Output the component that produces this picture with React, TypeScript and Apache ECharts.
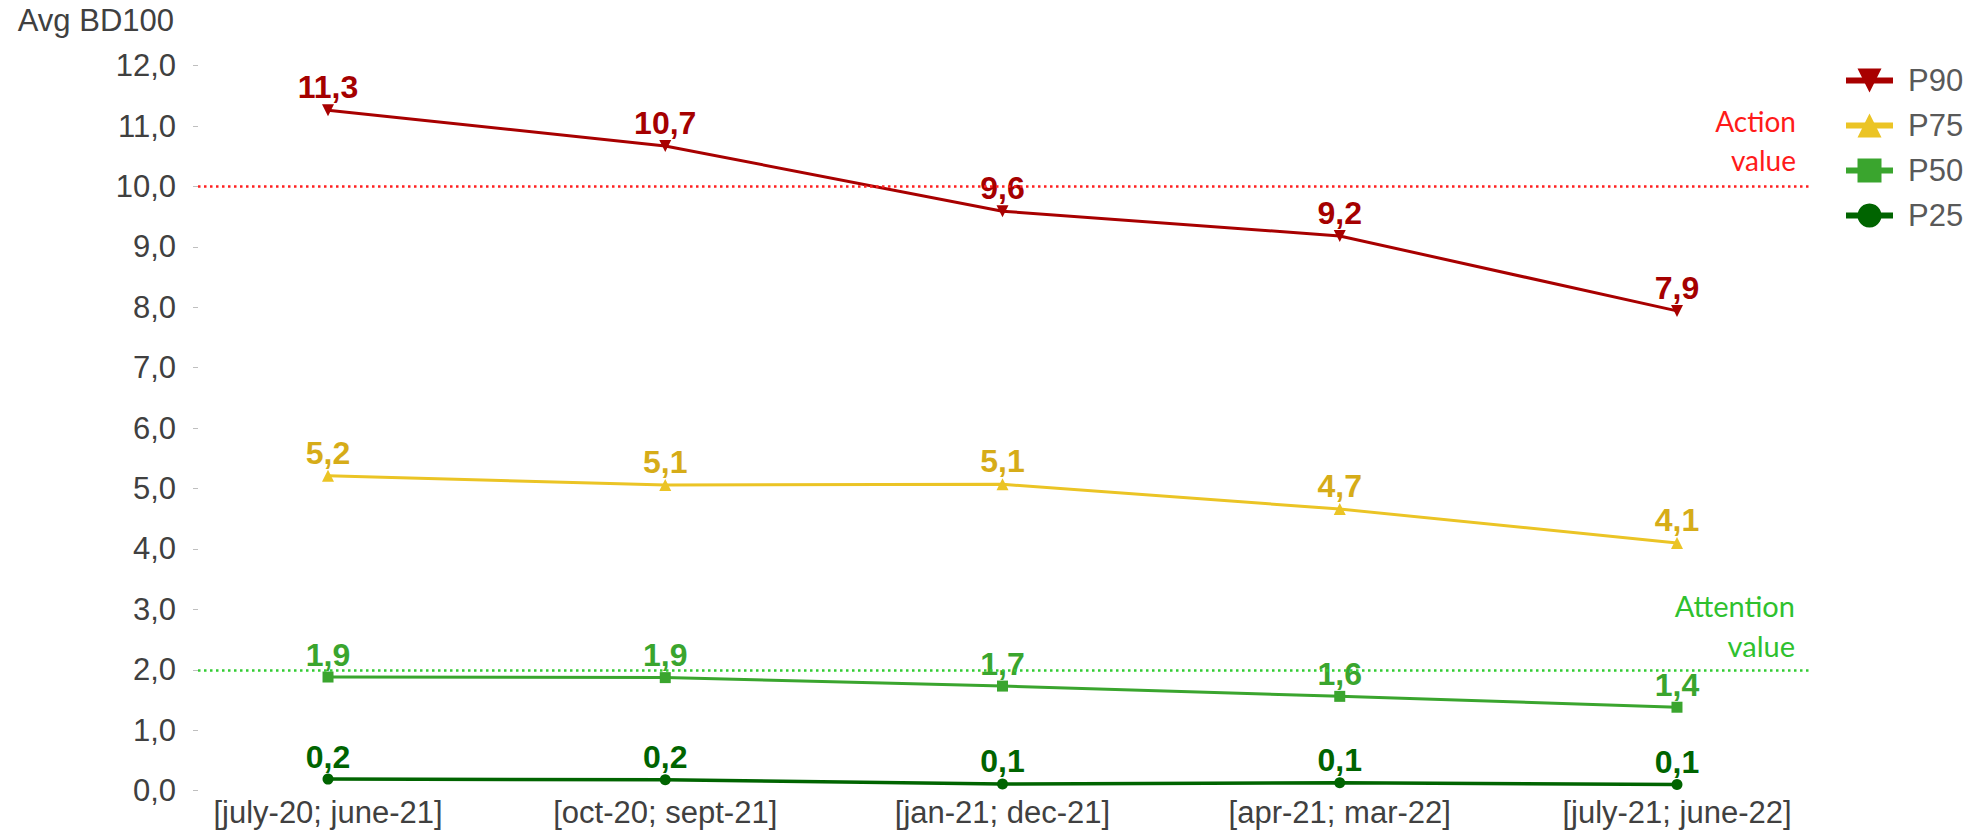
import React, { useEffect, useRef } from "react";
import * as echarts from "echarts";

const categories = [
  "[july-20; june-21]",
  "[oct-20; sept-21]",
  "[jan-21; dec-21]",
  "[apr-21; mar-22]",
  "[july-21; june-22]",
];
const p90 = [11.26, 10.67, 9.59, 9.18, 7.94];
const p75 = [5.21, 5.06, 5.07, 4.66, 4.1];
const p50 = [1.88, 1.87, 1.73, 1.56, 1.38];
const p25 = [0.19, 0.18, 0.11, 0.13, 0.1];
const actionValue = 10;
const attentionValue = 2;
const yTicksMin = 0;
const yTicksMax = 12;
const yTicksStep = 1;

const fmt = (v: number) => v.toFixed(1).replace(".", ",");
const ARIAL = "'Liberation Sans', Arial, sans-serif";
const CALIBRI = "Lato, 'Open Sans', sans-serif";

function makeSeries(
  name: string,
  data: number[],
  color: string,
  labelColor: string,
  symbol: string,
  symbolSize: number,
  rotate: number,
  extra: any = {}
) {
  return {
    name,
    type: "line",
    data,
    symbol,
    symbolSize,
    symbolRotate: rotate,
    lineStyle: { color, width: 3 },
    itemStyle: { color },
    label: {
      show: true,
      position: "top",
      distance: 1,
      formatter: (p: any) => fmt(p.value),
      color: labelColor,
      fontFamily: ARIAL,
      fontWeight: "bold",
      fontSize: 32,
    },
    z: 3,
    ...extra,
  };
}

export default function App() {
  const ref = useRef<HTMLDivElement>(null);
  useEffect(() => {
    if (!ref.current) return;
    const chart = echarts.init(ref.current, undefined, { renderer: "svg" });
    const dotted = (color: string) => ({
      color,
      width: 2.5,
      type: [2.5, 3.5],
    });
    chart.setOption({
      animation: false,
      backgroundColor: "#ffffff",
      grid: { left: 159.4, right: 131.4, top: 65.6, bottom: 43.4, containLabel: false },
      legend: {
        orient: "vertical",
        left: 1838,
        top: 60,
        itemWidth: 47,
        itemHeight: 30,
        itemGap: 14,
        lineStyle: { width: 6 },
        textStyle: { color: "#595959", fontSize: 31, fontFamily: ARIAL, padding: [0, 0, 0, 10] },
        data: ["P90", "P75", "P50", "P25"],
      },
      xAxis: {
        type: "category",
        data: categories,
        boundaryGap: true,
        axisLine: { show: false },
        axisTick: { show: false },
        axisLabel: { color: "#404040", fontSize: 31, fontFamily: ARIAL, margin: 6 },
      },
      yAxis: {
        type: "value",
        min: yTicksMin,
        max: yTicksMax,
        interval: yTicksStep,
        offset: -38.6,
        name: "Avg BD100",
        nameLocation: "end",
        nameGap: 30,
        nameTextStyle: {
          color: "#404040",
          fontSize: 31,
          fontFamily: ARIAL,
          align: "right",
          padding: [0, 24, 0, 0],
        },
        splitLine: { show: false },
        axisLine: { show: false },
        axisTick: { show: true, length: 5, lineStyle: { color: "#BFBFBF", width: 1 } },
        axisLabel: {
          color: "#404040",
          fontSize: 31,
          fontFamily: ARIAL,
          margin: 22,
          formatter: (v: number) => fmt(v),
        },
      },
      series: [
        makeSeries("P90", p90, "#A80000", "#A50000", "triangle", 12, 180, {
          markLine: {
            silent: true,
            symbol: ["none", "none"],
            lineStyle: dotted("#FF2020"),
            label: {
              show: true,
              position: "insideEndTop",
              formatter: "Action\nvalue",
              color: "#FF1A1A",
              fontFamily: CALIBRI,
              fontSize: 28,
              lineHeight: 39,
              align: "right",
              distance: [14, 7],
            },
            data: [[{ x: 198, yAxis: actionValue }, { x: 1810, yAxis: actionValue }]],
          },
        }),
        makeSeries("P75", p75, "#EBC425", "#D6AC18", "triangle", 12, 0),
        makeSeries("P50", p50, "#3AA52E", "#3AA52E", "rect", 11, 0, {
          markLine: {
            silent: true,
            symbol: ["none", "none"],
            lineStyle: dotted("#33CC33"),
            label: {
              show: true,
              position: "insideEndTop",
              formatter: "Attention\nvalue",
              color: "#2EC12E",
              fontFamily: CALIBRI,
              fontSize: 29,
              lineHeight: 40,
              align: "right",
              distance: [15, 4],
            },
            data: [[{ x: 198, yAxis: attentionValue }, { x: 1810, yAxis: attentionValue }]],
          },
        }),
        makeSeries("P25", p25, "#006400", "#006400", "circle", 11, 0, {
          lineStyle: { color: "#006400", width: 3.5 },
        }),
      ],
    });
    return () => chart.dispose();
  }, []);
  return (
    <div
      ref={ref}
      style={{ position: "fixed", left: 0, top: 0, width: 1977, height: 834, background: "#fff" }}
    />
  );
}
